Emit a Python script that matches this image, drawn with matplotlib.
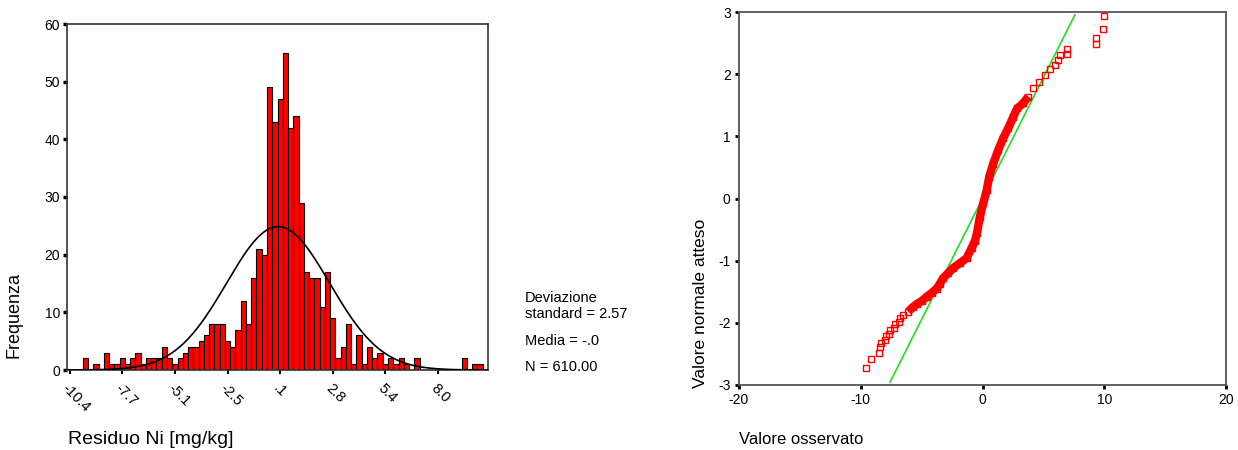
import numpy as np
import matplotlib.pyplot as plt

plt.rcParams['font.family'] = ['Liberation Sans', 'DejaVu Sans']
plt.rcParams['axes.unicode_minus'] = False

# histogram of residuals (80 bins)
bin_start = -10.4
bin_width = 0.2625
counts = [0, 0, 0, 2, 0, 1, 0, 3, 1, 1,
          2, 1, 2, 3, 1, 2, 2, 2, 4, 2,
          1, 2, 3, 4, 4, 5, 6, 8, 8, 8,
          5, 4, 7, 12, 8, 16, 21, 20, 49, 43,
          47, 55, 42, 44, 29, 17, 16, 16, 11, 17,
          9, 2, 4, 8, 1, 6, 1, 4, 2, 3,
          1, 2, 1, 2, 1, 0, 2, 0, 0, 0,
          0, 0, 0, 0, 0, 2, 0, 1, 1, 0]
hist_ticklabels = ['-10.4', '-7.7', '-5.1', '-2.5', '.1', '2.8', '5.4', '8.0']
std_dev = 2.57
mean_val = 0.0
n_total = 610

# normal Q-Q plot points (observed value, expected normal value)
qq_obs = [-9.58, -9.17, -8.51, -8.43, -8.35, -8.02, -7.96, -7.70, -7.60, -7.28,
          -7.20, -6.87, -6.79, -6.52, -6.10, -5.74, -5.42, -5.00, -4.59, -4.18,
          -3.77, -3.50, -3.23, -2.82, -2.41, -1.86, -1.31, -0.90, -0.62, -0.45,
          -0.21, 0.06, 0.34, 0.55, 0.88, 1.29, 1.70, 2.11, 2.52, 2.85,
          3.34, 3.76, 4.17, 4.66, 5.13, 5.54, 5.95, 6.22, 6.36, 6.91,
          6.96, 9.29, 9.29, 9.92, 10.0]
qq_exp = [-2.72, -2.58, -2.48, -2.39, -2.32, -2.28, -2.21, -2.18, -2.12, -2.09,
          -2.02, -1.98, -1.93, -1.87, -1.82, -1.75, -1.70, -1.65, -1.58, -1.52,
          -1.45, -1.37, -1.28, -1.20, -1.12, -1.04, -0.96, -0.80, -0.68, -0.55,
          -0.29, -0.08, 0.13, 0.35, 0.56, 0.78, 0.97, 1.13, 1.31, 1.45,
          1.53, 1.64, 1.77, 1.88, 1.98, 2.09, 2.14, 2.22, 2.31, 2.33,
          2.41, 2.48, 2.58, 2.72, 2.94]

fig = plt.figure(figsize=(12.38, 4.5), dpi=100)

# ---- histogram ----
ax1 = fig.add_axes([67/1238, 80/450, 421/1238, 346/450])
centers = bin_start + bin_width*np.arange(len(counts))
ax1.bar(centers, counts, width=bin_width, color='#ff0000', edgecolor='black', linewidth=0.8, zorder=2)
xs = np.linspace(centers[0] - bin_width/2, centers[-1] + bin_width/2, 400)
pdf = n_total*bin_width/(std_dev*np.sqrt(2*np.pi))*np.exp(-0.5*((xs - mean_val)/std_dev)**2)
ax1.plot(xs, pdf, color='black', lw=1.2, zorder=3)
ax1.set_xlim(centers[0] - bin_width/2, centers[-1] + bin_width/2)
ax1.set_ylim(0, 60)
ax1.set_yticks(range(0, 61, 10))
ax1.set_xticks(centers[::10][:len(hist_ticklabels)])
ax1.set_xticklabels(hist_ticklabels, rotation=-45, ha='left', va='top', rotation_mode='anchor')
ax1.tick_params(axis='y', length=3, width=2.5, labelsize=10, pad=2)
ax1.tick_params(axis='x', length=3, width=1.5, labelsize=10.5, pad=5)
for s in ax1.spines.values():
    s.set_color('#333333')
    s.set_linewidth(1.2)
ax1.set_ylabel('Frequenza', fontsize=13)
ax1.yaxis.set_label_coords(-0.105, 0.16)
ax1.set_xlabel('Residuo Ni [mg/kg]', fontsize=14)
ax1.xaxis.set_label_coords(0.2, -0.175)

fig.text(525/1238, 1 - 298/450, 'Deviazione', fontsize=10.5, va='center')
fig.text(525/1238, 1 - 314/450, 'standard = 2.57', fontsize=10.5, va='center')
fig.text(525/1238, 1 - 341/450, 'Media = -.0', fontsize=10.5, va='center')
fig.text(525/1238, 1 - 367/450, 'N = 610.00', fontsize=10.5, va='center')

# ---- normal Q-Q plot ----
ax2 = fig.add_axes([739/1238, 65/450, 487/1238, 373/450])
ref = np.array([-3, 3])*std_dev*0.985 + mean_val
ax2.plot(ref, (ref - mean_val)/std_dev, color='#22dd22', lw=1.2, zorder=2)
qo = np.array(qq_obs)
qe = np.array(qq_exp)
dense = (qe > -1.85) & (qe < 1.7)
ax2.plot(qo[dense], qe[dense], color='#ff0000', lw=6, solid_capstyle='butt', zorder=3)
ax2.plot(qo, qe, 's', mfc='none', mec='#ff0000', ms=4.5, mew=1.0, zorder=4)
ax2.set_xlim(-20, 20)
ax2.set_ylim(-3, 3)
ax2.set_xticks([-20, -10, 0, 10, 20])
ax2.set_yticks(range(-3, 4))
ax2.tick_params(length=3, width=2, labelsize=10, pad=3)
for s in ax2.spines.values():
    s.set_color('#555555')
    s.set_linewidth(1.3)
ax2.set_ylabel('Valore normale atteso', fontsize=12.5)
ax2.yaxis.set_label_coords(-0.064, 0.22)
ax2.set_xlabel('Valore osservato', fontsize=12)
ax2.xaxis.set_label_coords(0.127, -0.125)

plt.savefig('out.png', dpi=100)
